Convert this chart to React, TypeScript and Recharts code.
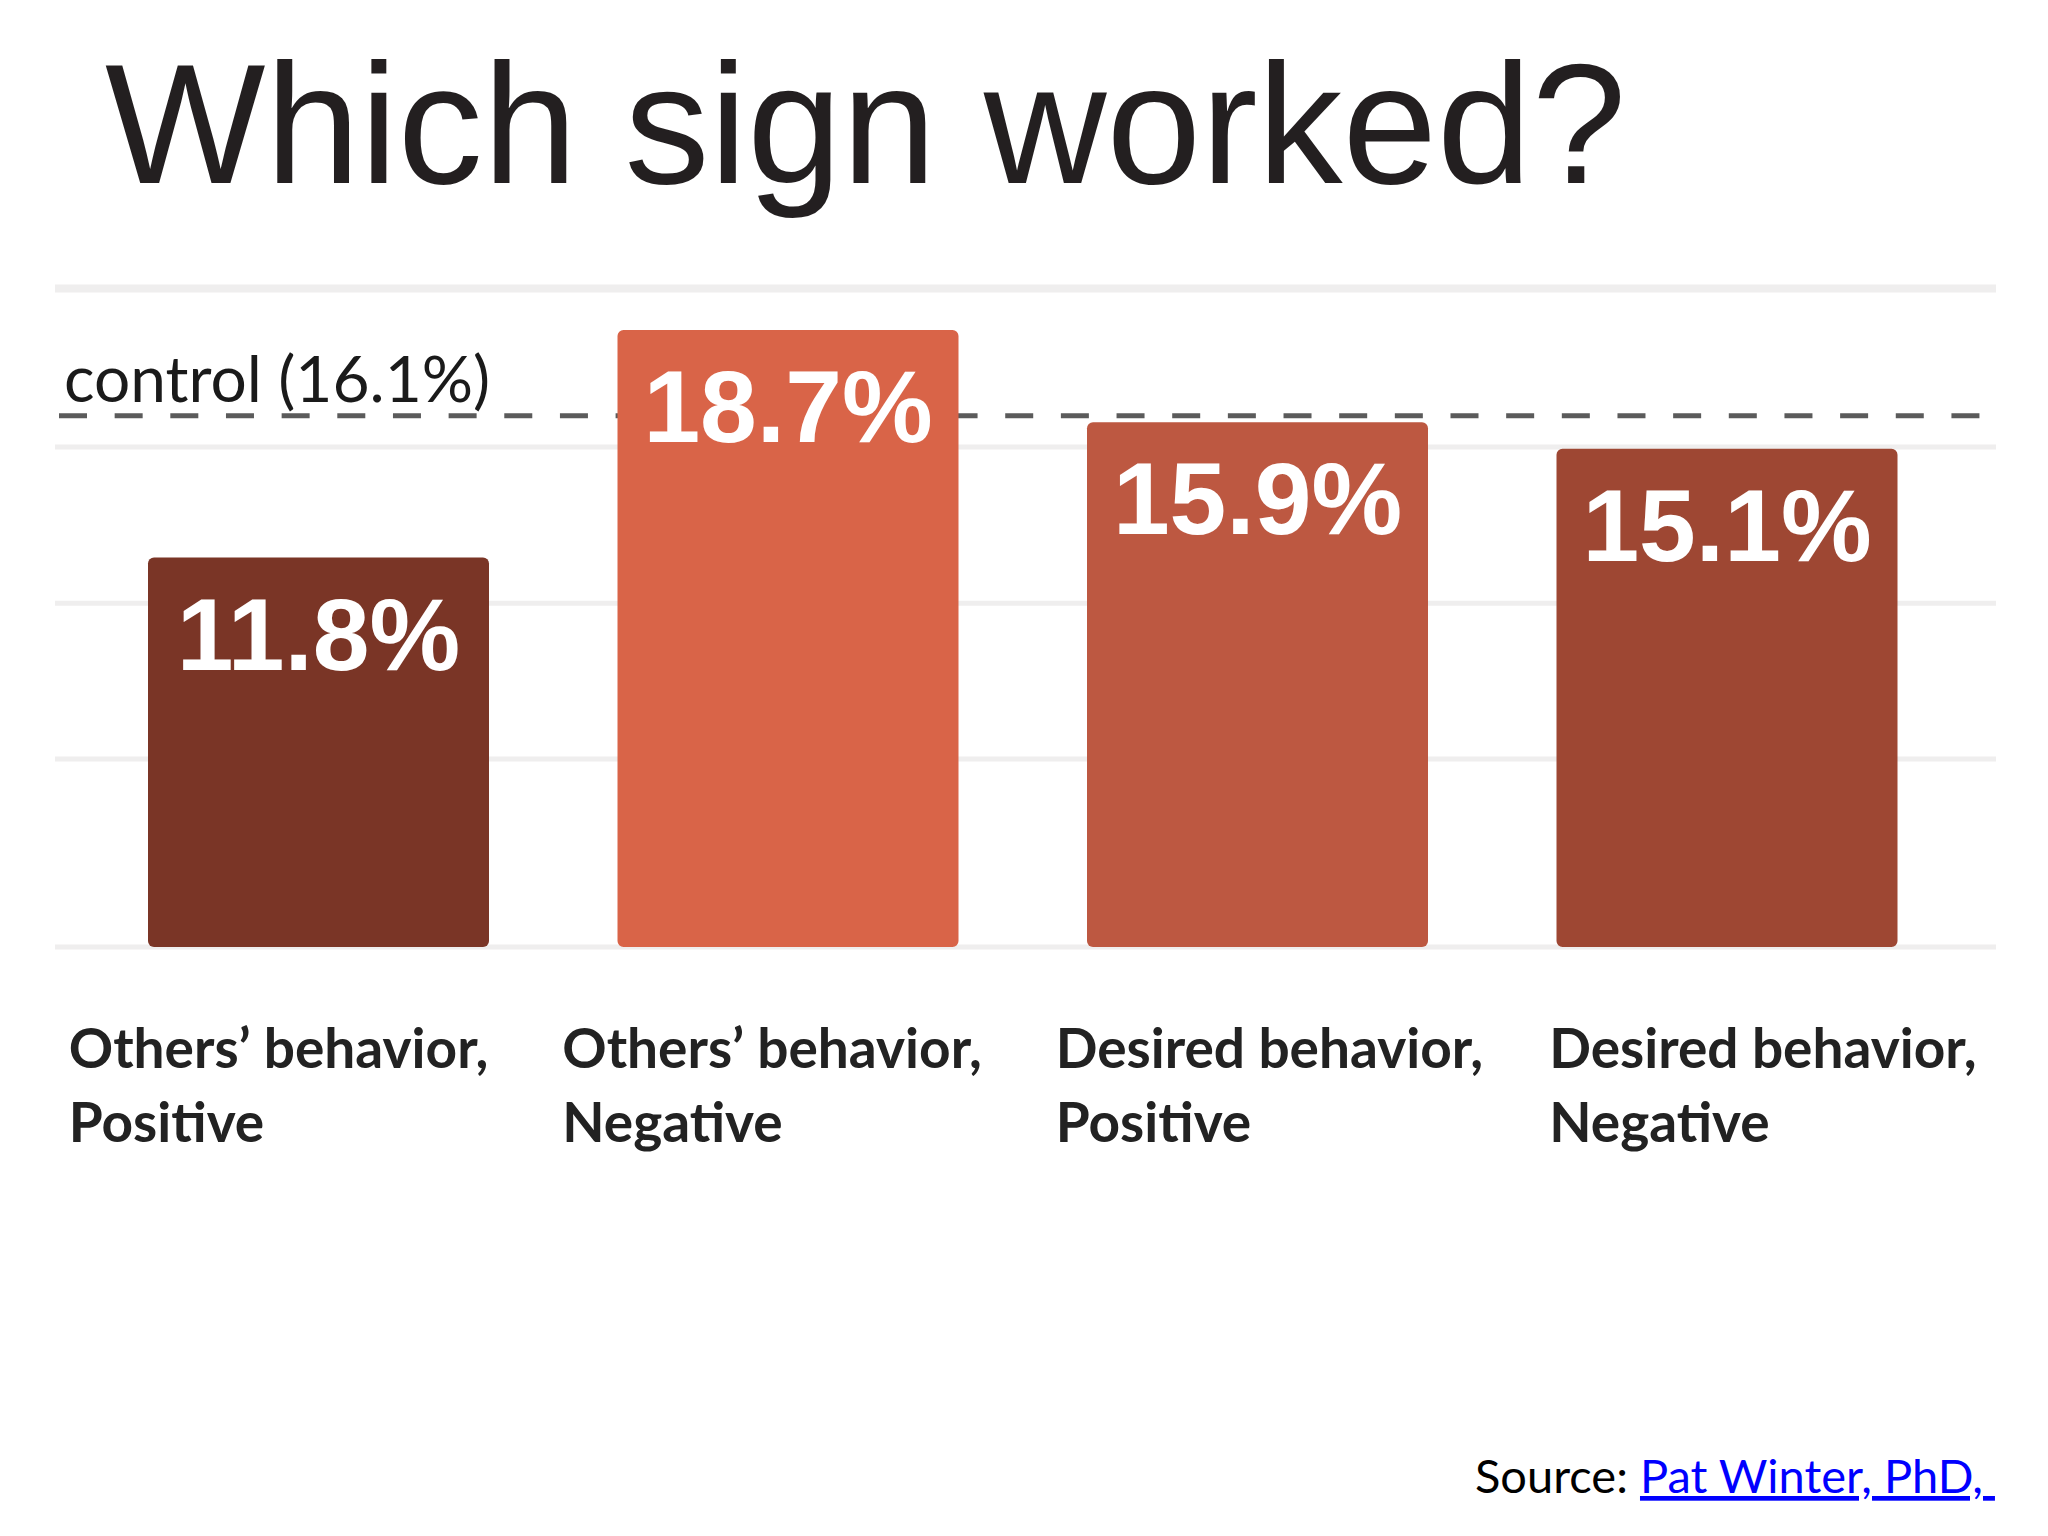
import React from 'react';
import { BarChart, Bar, XAxis, YAxis, CartesianGrid, ReferenceLine, Cell, LabelList } from 'recharts';

const signSubjects = ['Others’ behavior,', 'Others’ behavior,', 'Desired behavior,', 'Desired behavior,'];
const signTones = ['Positive', 'Negative', 'Positive', 'Negative'];
const complianceRates = [11.8, 18.7, 15.9, 15.1];
const controlRate = 16.1;
const gridValues = [0, 5.7, 10.42, 15.15, 19.91];
const barColors = ['#7a3526', '#d96448', '#bd5841', '#9e4733'];

const data = signSubjects.map((s, i) => ({ name: `${s} ${signTones[i]}`, value: complianceRates[i] }));

const CategoryTick = (props: any) => {
  const x = Number(props.x);
  const y = Number(props.y);
  const index = Number(props.index);
  const left = x - 250 + index * 24;
  const common = { fontFamily: 'Lato', fontWeight: 700, fontSize: 55, fill: '#222222' } as const;
  return (
    <g>
      <text x={left} y={y + 121} {...common}>{signSubjects[index]}</text>
      <text x={left} y={y + 195} {...common}>{signTones[index]}</text>
    </g>
  );
};

const ValueLabel = (props: any) => {
  const x = Number(props.x);
  const y = Number(props.y);
  const width = Number(props.width);
  return (
    <text
      x={x + width / 2}
      y={y + 112}
      textAnchor="middle"
      fill="#ffffff"
      fontFamily="Liberation Sans"
      fontWeight={700}
      fontSize={102}
    >
      {`${props.value}%`}
    </text>
  );
};

const ControlLabel = (props: any) => {
  const vb = props.viewBox || {};
  const x = Number(vb.x);
  const y = Number(vb.y);
  return (
    <text x={x + 9} y={y - 14} fontFamily="Lato" fontSize={64} fill="#1a1a1a">
      {`control (${controlRate}%)`}
    </text>
  );
};

export default function App() {
  return (
    <div style={{ position: 'absolute', left: 0, top: 0, width: 2048, height: 1536, background: '#ffffff' }}>
      <BarChart
        width={2048}
        height={1536}
        data={data}
        margin={{ top: 287, right: 52, bottom: 389, left: 55 }}
      >
        <CartesianGrid vertical={false} stroke="#efeeee" strokeWidth={5} />
        <XAxis
          dataKey="name"
          axisLine={false}
          tickLine={false}
          tickSize={0}
          tickMargin={0}
          height={200}
          interval={0}
          padding={{ left: 29, right: 34 }}
          tick={<CategoryTick />}
        />
        <YAxis hide domain={[0, 20]} ticks={gridValues} />
        <ReferenceLine
          y={controlRate}
          stroke="#5b5b5b"
          strokeWidth={5}
          strokeDasharray="28 27.66"
          strokeDashoffset={51.66}
          zIndex={250}
          label={ControlLabel}
        />
        <Bar dataKey="value" barSize={341} radius={6} isAnimationActive={false}>
          {data.map((d, i) => (
            <Cell key={d.name + i} fill={barColors[i]} />
          ))}
          <LabelList dataKey="value" content={ValueLabel} />
        </Bar>
      </BarChart>
      <svg
        width={2048}
        height={1536}
        style={{ position: 'absolute', left: 0, top: 0, pointerEvents: 'none' }}
      >
        <text x={105} y={183} fontFamily="Liberation Sans" fontSize={170} fill="#231f20">
          Which sign worked?
        </text>
        <text x={1475} y={1493} fontFamily="Lato" fontSize={47} fill="#000000" style={{ whiteSpace: 'pre' }}>
          {'Source: '}
          <tspan fill="#0000ff" textDecoration="underline" style={{ textDecoration: 'underline' }}>
            {'Pat Winter, PhD, '}
          </tspan>
        </text>
      </svg>
    </div>
  );
}
